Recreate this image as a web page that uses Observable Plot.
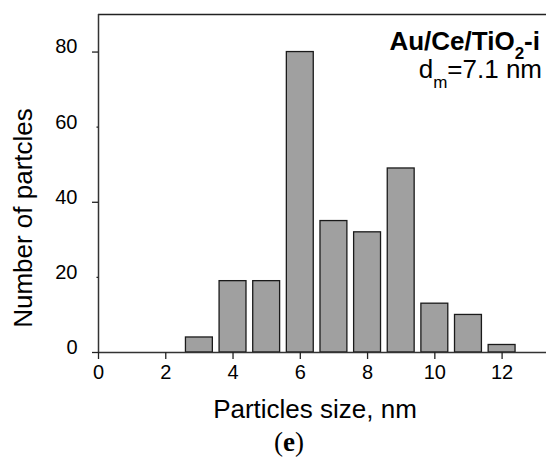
<!DOCTYPE html>
<html><head><meta charset="utf-8">
<script src="https://cdn.jsdelivr.net/npm/d3@7"></script>
<script src="https://cdn.jsdelivr.net/npm/@observablehq/plot@0.6"></script>
<style>body{margin:0;background:#fff;}</style>
</head><body><div id="chart"></div>
<script>
const sizes = [3, 4, 5, 6, 7, 8, 9, 10, 11, 12];
const counts = [4, 19, 19, 80, 35, 32, 49, 13, 10, 2];
const xTicks = [0, 2, 4, 6, 8, 10, 12];
const yTicks = [0, 20, 40, 60, 80];
const yMajorTicks = [0, 40, 80];
const yMinorTicks = [20, 60];
const xMax = 13.32, yMax = 90;
const barWidth = 0.8;
const xLabel = "Particles size, nm";
const yLabel = "Number of partcles";
const panelLabel = "e";

const data = sizes.map((s, i) => ({size: s, count: counts[i]}));
const font = "'Liberation Sans', Arial, sans-serif";

const plot = Plot.plot({
  width: 547, height: 461,
  marginLeft: 98, marginRight: 1, marginTop: 14, marginBottom: 109,
  style: {fontFamily: font, background: "#fff", color: "#222", overflow: "visible"},
  x: {domain: [0, xMax]},
  y: {domain: [0, yMax]},
  marks: [
    Plot.rect(data, {x1: d => d.size - barWidth / 2, x2: d => d.size + barWidth / 2, y1: 0, y2: "count",
      fill: "#a0a0a0", stroke: "#1a1a1a", strokeWidth: 1.3}),
    Plot.ruleY([yMax], {stroke: "#222", strokeWidth: 1.3}),
    Plot.ruleX([0], {stroke: "#333", strokeWidth: 1.5}),
    Plot.ruleY([0], {stroke: "#333", strokeWidth: 1.5}),
    Plot.axisX(xTicks, {tickSize: 7, text: null, label: null, strokeWidth: 1.3}),
    Plot.axisY(yMajorTicks, {tickSize: 6, text: null, label: null, strokeWidth: 1.3}),
    Plot.axisY(yMinorTicks, {tickSize: 1.5, text: null, label: null, strokeWidth: 1.3}),
    Plot.text(xTicks, {x: d => d, frameAnchor: "bottom", dy: 26, fontSize: 20, fill: "#000", text: d => String(d)}),
    Plot.text(yTicks, {y: d => d, frameAnchor: "left", dx: -21, dy: -5, textAnchor: "end", fontSize: 20, fill: "#000", text: d => String(d)})
  ]
});
document.getElementById("chart").appendChild(plot);

const svg = d3.select(plot);
svg.append("text").attr("x", 315).attr("y", 418).attr("text-anchor", "middle")
  .attr("font-family", font).attr("font-size", 26).attr("fill", "#000").text(xLabel);
svg.append("text").attr("transform", "translate(32,218) rotate(-90)").attr("text-anchor", "middle")
  .attr("font-family", font).attr("font-size", 26).attr("fill", "#000").text(yLabel);

const t1 = svg.append("text").attr("x", 540).attr("y", 50).attr("text-anchor", "end")
  .attr("font-family", font).attr("font-size", 26).attr("font-weight", "bold").attr("fill", "#000");
t1.append("tspan").text("Au/Ce/TiO");
t1.append("tspan").attr("font-size", 17).attr("dy", 9).text("2");
t1.append("tspan").attr("dy", -9).text("-i");

const t2 = svg.append("text").attr("x", 542).attr("y", 78).attr("text-anchor", "end")
  .attr("font-family", font).attr("font-size", 26).attr("fill", "#000");
t2.append("tspan").text("d");
t2.append("tspan").attr("font-size", 17).attr("dy", 10).text("m");
t2.append("tspan").attr("dy", -10).text("=7.1 nm");

const t3 = svg.append("text").attr("x", 289).attr("y", 451).attr("text-anchor", "middle")
  .attr("font-family", "'Liberation Serif', 'Times New Roman', serif").attr("font-size", 27).attr("fill", "#000");
t3.append("tspan").text("(");
t3.append("tspan").attr("font-weight", "bold").text(panelLabel);
t3.append("tspan").text(")");
</script>
</body></html>
